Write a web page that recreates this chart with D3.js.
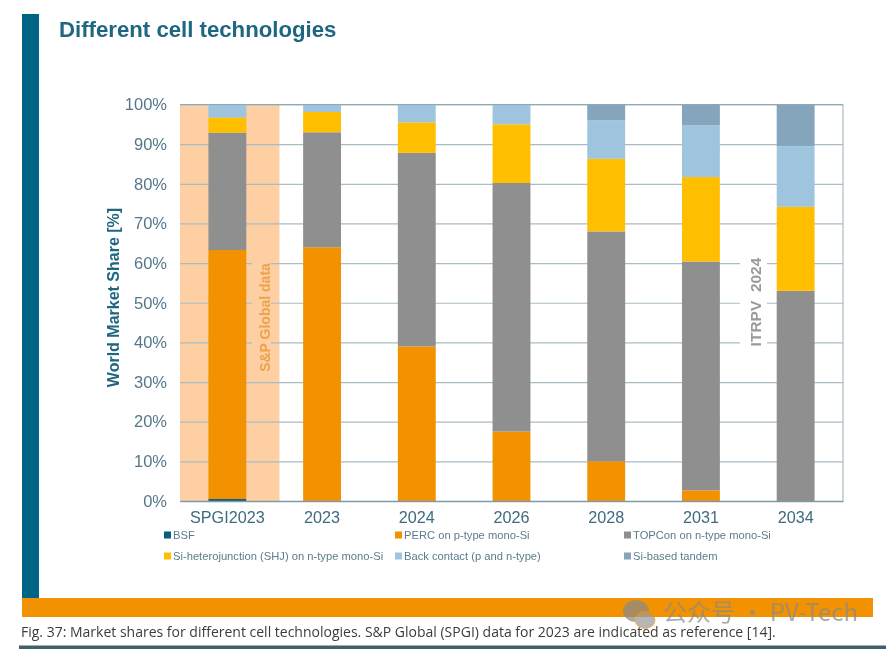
<!DOCTYPE html>
<html>
<head>
<meta charset="utf-8">
<script src="https://cdn.jsdelivr.net/npm/d3@7"></script>
<style>
  html, body { margin: 0; padding: 0; background: #fff; overflow: hidden; }
  text { font-family: "Liberation Sans", Arial, sans-serif; }
  svg { filter: blur(0.35px); }
</style>
</head>
<body>
<div class="canvas"></div>
<script>
// data
const categories = ['SPGI2023', '2023', '2024', '2026', '2028', '2031', '2034'];
const yTicks = [0, 10, 20, 30, 40, 50, 60, 70, 80, 90, 100];

const bsf = [0.5, 0, 0, 0, 0, 0, 0];
const perc = [62.8, 64, 39, 17.5, 10, 2.7, 0];
const topcon = [29.6, 29, 48.8, 62.7, 58, 57.7, 53];
const shj = [3.8, 5.1, 7.7, 14.8, 18.3, 21.3, 21.2];
const backContact = [3.3, 1.9, 4.5, 5, 9.7, 13.1, 15.3];
const tandem = [0, 0, 0, 0, 4, 5.2, 10.5];

const seriesNames = [
    'BSF',
    'PERC on p-type mono-Si',
    'TOPCon on n-type mono-Si',
    'Si-heterojunction (SHJ) on n-type mono-Si',
    'Back contact (p and n-type)',
    'Si-based tandem'
];
const seriesValues = [bsf, perc, topcon, shj, backContact, tandem];
const seriesColors = ['#0b5f7e', '#f39200', '#8f8f8f', '#ffbf00', '#9fc5de', '#84a5bc'];

// page setup
const svg = d3.select('.canvas')
    .append('svg')
    .attr('width', 886)
    .attr('height', 649)
    .style('display', 'block');

// slide furniture
svg.append('rect').attr('x', 22).attr('y', 14).attr('width', 17).attr('height', 584).attr('fill', '#006487');
svg.append('rect').attr('x', 22).attr('y', 598).attr('width', 851).attr('height', 19).attr('fill', '#f39200');
svg.append('rect').attr('x', 19).attr('y', 645.5).attr('width', 867).attr('height', 3.5).attr('fill', '#3f5f6b');

svg.append('text')
    .attr('x', 59).attr('y', 37)
    .attr('font-size', 22.2).attr('font-weight', 700)
    .attr('fill', '#1f6680')
    .text('Different cell technologies');

// chart area
const margin = { top: 104.5, right: 43, bottom: 148, left: 180 };
const graphWidth = 886 - margin.left - margin.right;
const graphHeight = 649 - margin.top - margin.bottom;

const graph = svg.append('g')
    .attr('transform', `translate(${margin.left},${margin.top})`);

const x = d3.scaleBand()
    .domain(categories)
    .range([0, graphWidth])
    .paddingInner(0.6)
    .paddingOuter(0.3);

const y = d3.scaleLinear()
    .domain([0, 100])
    .range([graphHeight, 0]);

// highlighted S&P reference band sits behind the grid
graph.append('rect')
    .attr('x', 0)
    .attr('y', 0)
    .attr('width', x.step() * 1.05)
    .attr('height', graphHeight)
    .attr('fill', '#fdcfa3');

// y axis + grid
const yAxis = d3.axisLeft(y)
    .tickValues(yTicks)
    .tickSize(-graphWidth)
    .tickPadding(13)
    .tickFormat(d => d + '%');

const yAxisGroup = graph.append('g').call(yAxis);
yAxisGroup.select('.domain').remove();
yAxisGroup.selectAll('.tick line')
    .attr('stroke', '#a9bcc4')
    .attr('stroke-width', 1.2);
yAxisGroup.selectAll('.tick text')
    .attr('font-size', 16.5)
    .attr('fill', '#54788a');

// right border of the plot
graph.append('line')
    .attr('x1', graphWidth).attr('x2', graphWidth)
    .attr('y1', 0).attr('y2', graphHeight)
    .attr('stroke', '#a9bcc4')
    .attr('stroke-width', 1.2);

// stacked bars
const rows = categories.map((c, i) => {
    const row = { category: c };
    seriesNames.forEach((name, s) => { row[name] = seriesValues[s][i]; });
    return row;
});
const stacked = d3.stack().keys(seriesNames)(rows);

graph.selectAll('g.layer')
    .data(stacked)
    .enter()
    .append('g')
    .attr('class', 'layer')
    .attr('fill', (d, i) => seriesColors[i])
    .selectAll('rect')
    .data(d => d)
    .enter()
    .append('rect')
    .attr('x', d => x(d.data.category))
    .attr('width', x.bandwidth())
    .attr('y', d => y(d[1]))
    .attr('height', d => y(d[0]) - y(d[1]));

// x axis
const xAxis = d3.axisBottom(x).tickSize(0).tickPadding(10);
const xAxisGroup = graph.append('g')
    .attr('transform', `translate(0, ${graphHeight})`)
    .call(xAxis);
xAxisGroup.select('.domain')
    .attr('stroke', '#7f9aa6')
    .attr('stroke-width', 1.5);
xAxisGroup.selectAll('.tick text')
    .attr('font-size', 16.2)
    .attr('fill', '#3f6b80');

// top border drawn over the bars' background
graph.append('line')
    .attr('x1', 0).attr('x2', graphWidth)
    .attr('y1', 0).attr('y2', 0)
    .attr('stroke', '#8fa9b4')
    .attr('stroke-width', 1.2);

// y axis title
svg.append('text')
    .attr('transform', 'translate(119,297.5) rotate(-90)')
    .attr('text-anchor', 'middle')
    .attr('font-size', 16).attr('font-weight', 700)
    .attr('fill', '#1f6680')
    .text('World Market Share [%]');

// rotated notes, each with a patch that breaks the gridlines
svg.append('rect').attr('x', 252).attr('y', 258).attr('width', 19).attr('height', 118).attr('fill', '#fdcfa3');
svg.append('text')
    .attr('transform', 'translate(270,317.5) rotate(-90)')
    .attr('text-anchor', 'middle')
    .attr('font-size', 14).attr('font-weight', 700)
    .attr('fill', '#eda24a')
    .text('S&P Global data');

svg.append('rect').attr('x', 740).attr('y', 255).attr('width', 27).attr('height', 94).attr('fill', '#fff');
svg.append('text')
    .attr('transform', 'translate(760.5,302) rotate(-90)')
    .attr('text-anchor', 'middle')
    .attr('font-size', 15.5).attr('font-weight', 700)
    .attr('fill', '#9a9a9a')
    .attr('xml:space', 'preserve')
    .text('ITRPV  2024');

// legend, 3 columns over 2 rows
const legendX = [164, 395, 624];
const legendY = [535, 556];
const legend = svg.selectAll('g.legend')
    .data(seriesNames)
    .enter()
    .append('g')
    .attr('class', 'legend')
    .attr('transform', (d, i) => `translate(${legendX[i % 3]},${legendY[Math.floor(i / 3)]})`);
legend.append('rect')
    .attr('x', 0).attr('y', -3.5)
    .attr('width', 7).attr('height', 7)
    .attr('fill', (d, i) => seriesColors[i]);
legend.append('text')
    .attr('x', 9).attr('y', 4)
    .attr('font-size', 11.2)
    .attr('fill', '#5b7c8b')
    .text(d => d);

// caption
svg.append('text')
    .attr('x', 21).attr('y', 636.5)
    .style('font-family', '"Open Sans", sans-serif')
    .attr('font-size', 14)
    .attr('fill', '#3c3c3c')
    .text('Fig. 37: Market shares for different cell technologies. S&P Global (SPGI) data for 2023 are indicated as reference [14].');

// watermark
const wm = svg.append('g').attr('opacity', 0.72);
wm.append('ellipse').attr('cx', 636).attr('cy', 611).attr('rx', 13).attr('ry', 11).attr('fill', '#8a8a8a');
wm.append('ellipse').attr('cx', 645).attr('cy', 620).attr('rx', 10).attr('ry', 8.5).attr('fill', '#9a9a9a').attr('stroke', '#f39200').attr('stroke-width', 1);
wm.append('text')
    .attr('x', 663).attr('y', 621)
    .style('font-family', '"Noto Sans CJK SC", sans-serif')
    .attr('font-size', 24)
    .attr('fill', '#8a8a8a')
    .text('公众号 · PV-Tech');
</script>
</body>
</html>
